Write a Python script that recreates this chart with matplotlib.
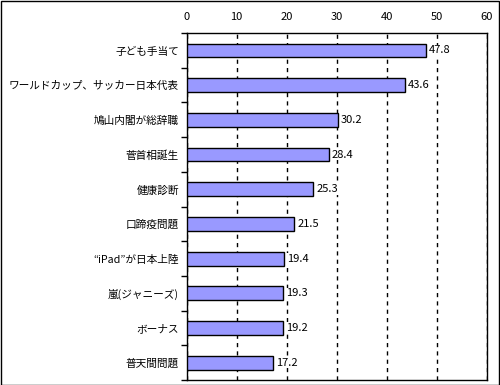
import matplotlib
matplotlib.use("Agg")
import matplotlib.pyplot as plt
from matplotlib.patches import Rectangle
import numpy as np

plt.rcParams['font.family'] = ['Noto Sans CJK JP', 'DejaVu Sans']

categories = ["子ども手当て", "ワールドカップ、サッカー日本代表", "鳩山内閣が総辞職", "菅首相誕生",
              "健康診断", "口蹄疫問題", "“iPad”が日本上陸", "嵐(ジャニーズ)", "ボーナス", "普天間問題"]
values = [47.8, 43.6, 30.2, 28.4, 25.3, 21.5, 19.4, 19.3, 19.2, 17.2]
xticks = [0, 10, 20, 30, 40, 50, 60]

fig = plt.figure(figsize=(5, 3.85), dpi=100)
ax = fig.add_axes([0.373, 0.013, 0.601, 0.901])

n = len(categories)
y = np.arange(n)
ax.barh(y, values, height=0.4, color="#9999FF", edgecolor="black", linewidth=1, zorder=3)
for yi, v in zip(y, values):
    ax.text(v + 0.6, yi, f"{v:.1f}", va="center", ha="left", fontsize=8, zorder=4,
            bbox=dict(facecolor="white", edgecolor="none", pad=0.5))

ax.set_xlim(0, 60)
ax.set_ylim(n - 0.5, -0.5)
ax.set_xticks(xticks)
ax.set_xticklabels([str(t) for t in xticks], fontsize=8)
ax.xaxis.tick_top()
ax.tick_params(axis='x', length=0, pad=8)
ax.set_axisbelow(True)
ax.xaxis.grid(True, linestyle=(0, (3, 3)), color="black", linewidth=1, zorder=1)

ax.set_yticks(np.arange(n + 1) - 0.5)
ax.set_yticklabels([])
ax.tick_params(axis='y', which='major', length=4, direction='out', width=1)
ax.set_yticks(y, minor=True)
ax.set_yticklabels(categories, minor=True, fontsize=7.7)
ax.tick_params(axis='y', which='minor', length=0, pad=5.5)

for s in ax.spines.values():
    s.set_linewidth(1)
    s.set_color("black")

fig.patches.append(Rectangle((0.001, 0.001), 0.997, 0.996, transform=fig.transFigure,
                             fill=False, edgecolor="black", linewidth=1))

fig.savefig("out.png", dpi=100)
